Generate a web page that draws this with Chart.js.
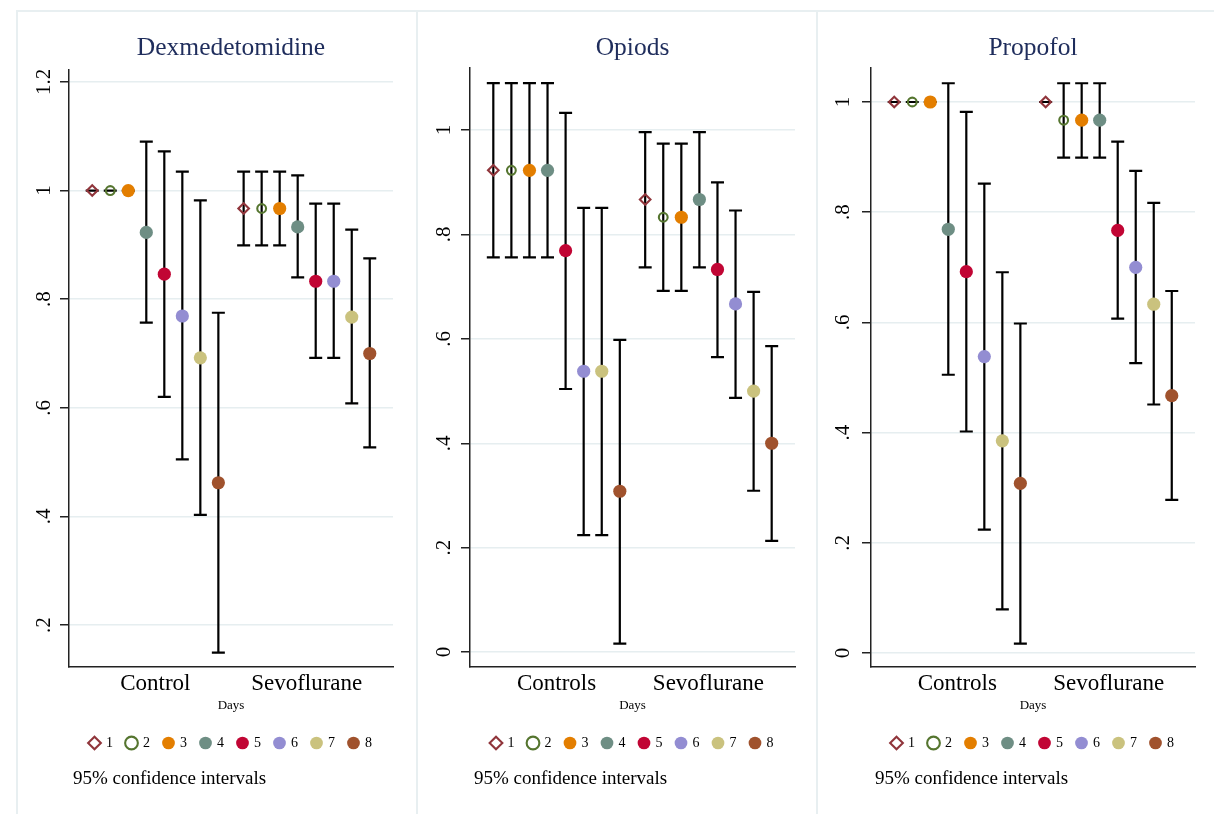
<!DOCTYPE html>
<html>
<head>
<meta charset="utf-8">
<script src="https://cdn.jsdelivr.net/npm/chart.js@4.4.1/dist/chart.umd.min.js"></script>
<style>
body { margin: 0; background: #fff; width: 1214px; height: 814px; overflow: hidden; position: relative; }
.panel { position: absolute; top: 10px; width: 400px; height: 810px; box-sizing: border-box;
  border-top: 2px solid #e8eff1; border-left: 2px solid #e8eff1; }
.panel canvas { position: absolute; left: 0; top: 0; }
</style>
</head>
<body>
<div class="panel" style="left:16px"><canvas id="dex" width="396" height="802"></canvas></div>
<div class="panel" style="left:416px"><canvas id="opi" width="396" height="802"></canvas></div>
<div class="panel" style="left:816px;border-right:2px solid #e8eff1"><canvas id="pro" width="396" height="802"></canvas></div>
<script>
var days = ["1", "2", "3", "4", "5", "6", "7", "8"];
var dayColors = ["#90353b", "#55752f", "#e37e00", "#6e8e84", "#c10534", "#938dd2", "#cac27e", "#a0522d"];

// Dexmedetomidine
var dexGroups = ["Control", "Sevoflurane"];
var dexControlMean = [1, 1, 1, 0.923, 0.846, 0.769, 0.692, 0.462];
var dexControlLo   = [1, 1, 1, 0.757, 0.620, 0.505, 0.403, 0.149];
var dexControlHi   = [1, 1, 1, 1.090, 1.072, 1.035, 0.982, 0.775];
var dexSevoMean = [0.967, 0.967, 0.967, 0.933, 0.833, 0.833, 0.767, 0.700];
var dexSevoLo   = [0.899, 0.899, 0.899, 0.840, 0.692, 0.692, 0.608, 0.527];
var dexSevoHi   = [1.035, 1.035, 1.035, 1.028, 0.976, 0.976, 0.928, 0.875];

// Opiods
var opiGroups = ["Controls", "Sevoflurane"];
var opiControlMean = [0.923, 0.923, 0.923, 0.923, 0.769, 0.538, 0.538, 0.308];
var opiControlLo   = [0.756, 0.756, 0.756, 0.756, 0.504, 0.224, 0.224, 0.016];
var opiControlHi   = [1.090, 1.090, 1.090, 1.090, 1.033, 0.851, 0.851, 0.598];
var opiSevoMean = [0.867, 0.833, 0.833, 0.867, 0.733, 0.667, 0.500, 0.400];
var opiSevoLo   = [0.737, 0.692, 0.692, 0.737, 0.565, 0.487, 0.309, 0.213];
var opiSevoHi   = [0.996, 0.974, 0.974, 0.996, 0.900, 0.846, 0.690, 0.586];

// Propofol
var proGroups = ["Controls", "Sevoflurane"];
var proControlMean = [1, 1, 1, 0.769, 0.692, 0.538, 0.385, 0.308];
var proControlLo   = [1, 1, 1, 0.505, 0.402, 0.224, 0.079, 0.017];
var proControlHi   = [1, 1, 1, 1.034, 0.982, 0.852, 0.691, 0.598];
var proSevoMean = [1, 0.967, 0.967, 0.967, 0.767, 0.700, 0.633, 0.467];
var proSevoLo   = [1, 0.899, 0.899, 0.899, 0.607, 0.526, 0.451, 0.278];
var proSevoHi   = [1, 1.034, 1.034, 1.034, 0.928, 0.875, 0.817, 0.657];

var dexTicks = [0.2, 0.4, 0.6, 0.8, 1, 1.2];
var dexTickLabels = [".2", ".4", ".6", ".8", "1", "1.2"];
var unitTicks = [0, 0.2, 0.4, 0.6, 0.8, 1];
var unitTickLabels = ["0", ".2", ".4", ".6", ".8", "1"];

var xAxisTitle = "Days";
var note = "95% confidence intervals";

var serif = "'Liberation Serif', 'Times New Roman', serif";
var dayStep = 0.119;

// whiskers with caps, drawn under the markers
var errorBars = {
  id: "errorBars",
  beforeDatasetsDraw: function(chart) {
    var ctx = chart.ctx, xs = chart.scales.x, ys = chart.scales.y;
    ctx.save();
    ctx.strokeStyle = "#000";
    ctx.lineWidth = 2.2;
    chart.data.datasets.forEach(function(ds) {
      ds.data.forEach(function(p, j) {
        var px = xs.getPixelForValue(p.x);
        var lo = ys.getPixelForValue(ds.ci[j][0]);
        var hi = ys.getPixelForValue(ds.ci[j][1]);
        ctx.beginPath();
        ctx.moveTo(px, lo); ctx.lineTo(px, hi);
        ctx.moveTo(px - 6.5, lo); ctx.lineTo(px + 6.5, lo);
        ctx.moveTo(px - 6.5, hi); ctx.lineTo(px + 6.5, hi);
        ctx.stroke();
      });
    });
    ctx.restore();
  }
};

var panelText = {
  id: "panelText",
  afterDraw: function(chart, args, opts) {
    var ctx = chart.ctx, a = chart.chartArea;
    ctx.save();
    ctx.textBaseline = "middle";
    ctx.fillStyle = "#1f2d5c";
    ctx.font = "25.5px " + serif;
    ctx.textAlign = "center";
    ctx.fillText(opts.title, (a.left + a.right) / 2, 36);
    ctx.fillStyle = "#000";
    ctx.font = "19px " + serif;
    ctx.textAlign = "left";
    ctx.fillText(opts.note, a.left + 4, 767);
    ctx.restore();
  }
};

function makePanel(id, title, groups, cM, cLo, cHi, sM, sLo, sHi, yTicks, yLabels, yMin, yMax, box) {
  var datasets = days.map(function(d, i) {
    var hollow = i < 2;
    return {
      label: d,
      data: [
        { x: 0 + (i - 3.5) * dayStep, y: cM[i] },
        { x: 1 + (i - 3.5) * dayStep, y: sM[i] }
      ],
      ci: [[cLo[i], cHi[i]], [sLo[i], sHi[i]]],
      pointStyle: i === 0 ? "rectRot" : "circle",
      pointRadius: i === 0 ? 5.3 : (i === 1 ? 4.4 : 6.6),
      pointBackgroundColor: hollow ? "rgba(0,0,0,0)" : dayColors[i],
      pointBorderColor: dayColors[i],
      pointBorderWidth: hollow ? 2.1 : 0
    };
  });

  new Chart(document.getElementById(id), {
    type: "scatter",
    data: { datasets: datasets },
    plugins: [errorBars, panelText],
    options: {
      responsive: false,
      animation: false,
      events: [],
      layout: { padding: { top: box.top, left: 0, right: box.right, bottom: 54 } },
      scales: {
        x: {
          type: "linear",
          min: -0.57,
          max: 1.57,
          afterBuildTicks: function(s) { s.ticks = [{ value: 0 }, { value: 1 }]; },
          afterFit: function(s) { s.height = 55; s.paddingLeft = 0; s.paddingRight = 0; },
          grid: { display: false },
          border: { display: true, color: "#222", width: 1.5 },
          ticks: {
            color: "#000",
            font: { family: serif, size: 23 },
            padding: -5,
            maxRotation: 0,
            callback: function(v, i) { return groups[i]; }
          },
          title: {
            display: true,
            text: xAxisTitle,
            color: "#000",
            font: { family: serif, size: 13 },
            padding: { top: 0, bottom: 9 }
          }
        },
        y: {
          min: yMin,
          max: yMax,
          afterBuildTicks: function(s) { s.ticks = yTicks.map(function(v) { return { value: v }; }); },
          afterFit: function(s) { s.width = box.axisW; s.paddingTop = 0; s.paddingBottom = 0; },
          grid: { color: "#e6eef0", lineWidth: 1.5, tickColor: "#222", tickWidth: 1.5, tickLength: 9 },
          border: { display: true, color: "#222", width: 1.5 },
          ticks: {
            color: "#000",
            font: { family: serif, size: 21 },
            minRotation: 90,
            maxRotation: 90,
            crossAlign: "center",
            padding: box.labelPad,
            callback: function(v, i) { return yLabels[i]; }
          }
        }
      },
      plugins: {
        tooltip: { enabled: false },
        legend: {
          position: "bottom",
          fullSize: false,
          labels: {
            usePointStyle: true,
            boxWidth: 9,
            boxHeight: 9,
            padding: 14,
            color: "#000",
            font: { family: serif, size: 14 }
          }
        },
        panelText: { title: title, note: note }
      }
    }
  });
}

makePanel("dex", "Dexmedetomidine", dexGroups, dexControlMean, dexControlLo, dexControlHi,
  dexSevoMean, dexSevoLo, dexSevoHi, dexTicks, dexTickLabels, 0.1227, 1.222,
  { top: 58, right: 21, axisW: 51, labelPad: 2 });
makePanel("opi", "Opiods", opiGroups, opiControlMean, opiControlLo, opiControlHi,
  opiSevoMean, opiSevoLo, opiSevoHi, unitTicks, unitTickLabels, -0.0287, 1.119,
  { top: 56, right: 19, axisW: 52, labelPad: 9 });
makePanel("pro", "Propofol", proGroups, proControlMean, proControlLo, proControlHi,
  proSevoMean, proSevoLo, proSevoHi, unitTicks, unitTickLabels, -0.0254, 1.0617,
  { top: 56, right: 19, axisW: 53, labelPad: 11 });
</script>
</body>
</html>
